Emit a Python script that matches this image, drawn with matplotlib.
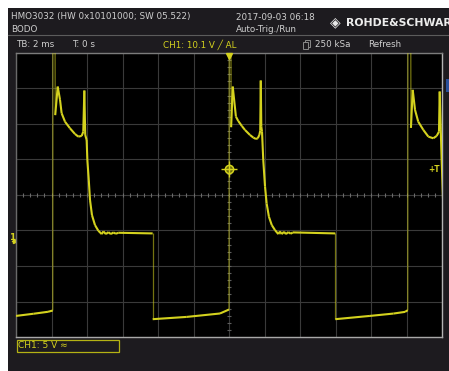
import matplotlib
matplotlib.use("Agg")
import matplotlib.pyplot as plt
import numpy as np
from matplotlib.patches import Rectangle
from matplotlib.collections import LineCollection

W, H = 449, 371

# CH1 trace, time in ms, voltage in V (30 V = off the top of the screen)
tail_t = [-12.0, -11.0, -10.2, -9.93]
tail_v = [-10.58, -10.27, -10.0, -9.82]

cyc1_t = [-9.92, -9.80, -9.79, -9.65, -9.52, -9.43, -9.24, -8.96, -8.68, -8.49, -8.30, -8.21,
          -8.15, -8.10, -8.02, -7.98, -7.90, -7.83, -7.72, -7.55, -7.36, -7.17,
          -7.08, -6.93, -6.80, -6.65, -6.52, -6.37, -6.24, -4.30]
cyc1_v = [30, 30, 17.7, 21.72, 19.85, 17.97, 16.78, 15.85, 15.05, 14.67, 14.77, 15.37,
          21.16, 14.91, 14.20, 11.38, 8.56, 5.74, 3.62, 2.21, 1.41, 0.94,
          1.32, 0.94, 1.22, 0.94, 1.18, 0.99, 1.13, 1.04]

low1_t = [-4.30, -2.38, -0.51, 0.0]
low1_v = [-11.04, -10.72, -10.24, -9.68]

cyc2_t = [0.01, 0.11, 0.12, 0.21, 0.39, 0.52, 0.72, 0.90, 1.18, 1.37, 1.52, 1.62, 1.71, 1.76,
          1.79, 1.82, 1.86, 1.93, 2.03, 2.12, 2.25, 2.41, 2.59, 2.78,
          2.87, 2.97, 3.10, 3.21, 3.34, 3.48, 3.59, 5.99]
cyc2_v = [30, 30, 16.0, 21.72, 17.49, 16.88, 16.18, 15.61, 14.91, 14.53, 14.34, 14.44, 14.91, 15.51,
          22.57, 16.08, 15.37, 11.38, 7.62, 5.27, 3.38, 2.21, 1.51, 0.94,
          1.32, 0.94, 1.27, 0.94, 1.23, 0.99, 1.18, 1.04]

low2_t = [5.99, 7.94, 9.26, 9.92, 10.07]
low2_v = [-11.04, -10.58, -10.25, -10.01, -9.77]

cyc3_t = [10.08, 10.24, 10.25, 10.35, 10.48, 10.66, 10.95, 11.23, 11.51, 11.70, 11.83,
          11.87, 11.93, 11.98, 12.06]
cyc3_v = [30, 30, 15.9, 21.26, 18.44, 16.78, 15.61, 14.67, 14.44, 14.77, 15.37,
          21.02, 15.61, 11.38, 5.74]

volts_div = 5.0
ms_div = 2.0
ch1_offset_div = 1.29   # ground marker sits this many divisions below centre
trig_level = 10.1

yellow = '#d4d21e'
text_grey = '#cfcfcf'
panel = '#1d1b1f'

t = np.array(tail_t + cyc1_t + low1_t + cyc2_t + low2_t + cyc3_t)
v = np.array(tail_v + cyc1_v + low1_v + cyc2_v + low2_v + cyc3_v)

fig = plt.figure(figsize=(W / 100, H / 100), dpi=100)
fig.patch.set_facecolor('white')

# instrument frame, drawn in pixel coordinates
bg = fig.add_axes([0, 0, 1, 1], zorder=0)
bg.set_xlim(0, W)
bg.set_ylim(H, 0)
bg.axis('off')
bg.add_patch(Rectangle((8, 8), W - 8, H - 8, color=panel, lw=0))
bg.plot([8, W], [35, 35], color='#5c5c5c', lw=0.8)
bg.add_patch(Rectangle((446, 79), 3, 13, color='#2a4f9a', lw=0))

hdr = dict(color=text_grey, fontsize=6.3, va='center', ha='left', family='DejaVu Sans')
bg.text(11, 17, 'HMO3032 (HW 0x10101000; SW 05.522)', **hdr)
bg.text(11, 29, 'BODO', **hdr)
bg.text(236, 17, '2017-09-03 06:18', **hdr)
bg.text(236, 29, 'Auto-Trig./Run', **hdr)
bg.text(330, 22.5, '◈', color='#e8e8e8', fontsize=10, va='center', ha='left')
bg.text(346, 22.5, 'ROHDE&SCHWARZ', color='#ececec', fontsize=7.8, fontweight='bold',
        va='center', ha='left')

bg.text(16, 44.5, 'TB: 2 ms', **hdr)
bg.text(72, 44.5, 'T: 0 s', **hdr)
bg.text(163, 44.5, 'CH1: 10.1 V ╱ AL', color=yellow, fontsize=6.3, va='center', ha='left')
bg.add_patch(Rectangle((305, 40), 5, 7, fill=False, ec='#8a8a8a', lw=0.7))
bg.add_patch(Rectangle((303, 42), 5, 7, fc=panel, ec='#8a8a8a', lw=0.7))
bg.text(315, 44.5, '250 kSa', **hdr)
bg.text(368, 44.5, 'Refresh', **hdr)

# channel ground marker
bg.text(9, 237.5, '1', color=yellow, fontsize=6.5, fontweight='bold', va='center', ha='left')
bg.plot([12, 15], [241, 241], color=yellow, lw=0.9)
bg.plot(15, 241, '>', color=yellow, ms=3)

# channel settings box
bg.add_patch(Rectangle((16.5, 339.5), 102.5, 12, fill=False, ec='#b4b214', lw=0.9))
bg.text(18.5, 345.8, 'CH1: 5 V ≈', color=yellow, fontsize=6.5, va='center', ha='left')

# scope screen
ax = fig.add_axes([16 / W, 1 - 337 / H, 426 / W, 284 / H], zorder=1)
ax.set_facecolor('black')
centre_v = ch1_offset_div * volts_div
ax.set_xlim(-6 * ms_div, 6 * ms_div)
ax.set_ylim(centre_v - 4 * volts_div, centre_v + 4 * volts_div)
ax.set_xticks(np.arange(-6, 7) * ms_div)
ax.set_yticks(centre_v + np.arange(-4, 5) * volts_div)
ax.tick_params(length=0, labelbottom=False, labelleft=False)
ax.grid(color='#3a3a3a', lw=0.8)
ax.set_axisbelow(True)
for side, c in [('left', '#6a6a6a'), ('top', '#7c7c7c'), ('right', '#b4b4b4'), ('bottom', '#a8a8a8')]:
    ax.spines[side].set_color(c)
    ax.spines[side].set_linewidth(1.0)

# minor ticks on the centre cross
mx = np.arange(-12, 12.01, 0.4)
ax.plot(mx, np.full_like(mx, centre_v), '|', color='#6a6a6a', ms=3.5, mew=0.8)
my = centre_v + np.arange(-20, 20.01, 1.0)
ax.plot(np.zeros_like(my), my, '_', color='#5e5e5e', ms=3.5, mew=0.8)

# trace: fast edges come out dimmer on the scope
pts = np.column_stack([t, v])
segs = np.stack([pts[:-1], pts[1:]], axis=1)
dt = np.diff(t)
steep = dt < 0.025
cols = np.array([matplotlib.colors.to_rgba(yellow, 0.55 if s else 1.0) for s in steep])
widths = np.where(steep, 0.9, 1.5)
ax.add_collection(LineCollection(segs, colors=cols, linewidths=widths, zorder=3))

# trigger markers
ax.plot(0, trig_level, 'o', mfc='#6b6a0a', mec=yellow, ms=6, mew=1.1, zorder=4)
ax.plot(0, trig_level, '+', color=yellow, ms=11, mew=1.0, zorder=4)
ax.text(11.9, trig_level, '+T', color=yellow, fontsize=5.5, fontweight='bold',
        ha='right', va='center', zorder=4)
ax.plot(0, centre_v + 4 * volts_div - 0.4, 'v', color=yellow, ms=4, clip_on=False, zorder=5)

fig.savefig('out.png', dpi=100)
